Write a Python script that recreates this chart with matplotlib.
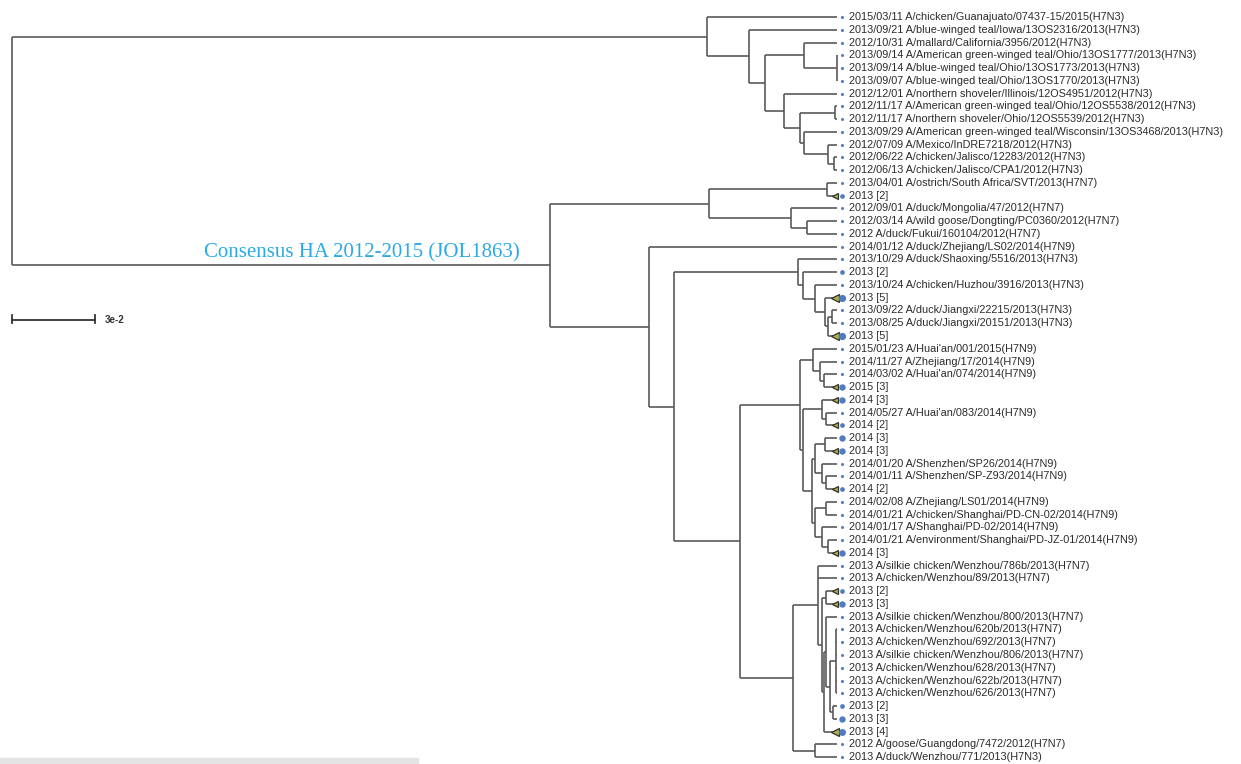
import matplotlib
matplotlib.use("Agg")
import matplotlib.pyplot as plt
from matplotlib.transforms import offset_copy, blended_transform_factory
import matplotlib.patches as mpatches

# ---------------- data ----------------
tip_labels = [
    "2015/03/11 A/chicken/Guanajuato/07437-15/2015(H7N3)",
    "2013/09/21 A/blue-winged teal/Iowa/13OS2316/2013(H7N3)",
    "2012/10/31 A/mallard/California/3956/2012(H7N3)",
    "2013/09/14 A/American green-winged teal/Ohio/13OS1777/2013(H7N3)",
    "2013/09/14 A/blue-winged teal/Ohio/13OS1773/2013(H7N3)",
    "2013/09/07 A/blue-winged teal/Ohio/13OS1770/2013(H7N3)",
    "2012/12/01 A/northern shoveler/Illinois/12OS4951/2012(H7N3)",
    "2012/11/17 A/American green-winged teal/Ohio/12OS5538/2012(H7N3)",
    "2012/11/17 A/northern shoveler/Ohio/12OS5539/2012(H7N3)",
    "2013/09/29 A/American green-winged teal/Wisconsin/13OS3468/2013(H7N3)",
    "2012/07/09 A/Mexico/InDRE7218/2012(H7N3)",
    "2012/06/22 A/chicken/Jalisco/12283/2012(H7N3)",
    "2012/06/13 A/chicken/Jalisco/CPA1/2012(H7N3)",
    "2013/04/01 A/ostrich/South Africa/SVT/2013(H7N7)",
    "2013 [2]",
    "2012/09/01 A/duck/Mongolia/47/2012(H7N7)",
    "2012/03/14 A/wild goose/Dongting/PC0360/2012(H7N7)",
    "2012 A/duck/Fukui/160104/2012(H7N7)",
    "2014/01/12 A/duck/Zhejiang/LS02/2014(H7N9)",
    "2013/10/29 A/duck/Shaoxing/5516/2013(H7N3)",
    "2013 [2]",
    "2013/10/24 A/chicken/Huzhou/3916/2013(H7N3)",
    "2013 [5]",
    "2013/09/22 A/duck/Jiangxi/22215/2013(H7N3)",
    "2013/08/25 A/duck/Jiangxi/20151/2013(H7N3)",
    "2013 [5]",
    "2015/01/23 A/Huai'an/001/2015(H7N9)",
    "2014/11/27 A/Zhejiang/17/2014(H7N9)",
    "2014/03/02 A/Huai'an/074/2014(H7N9)",
    "2015 [3]",
    "2014 [3]",
    "2014/05/27 A/Huai'an/083/2014(H7N9)",
    "2014 [2]",
    "2014 [3]",
    "2014 [3]",
    "2014/01/20 A/Shenzhen/SP26/2014(H7N9)",
    "2014/01/11 A/Shenzhen/SP-Z93/2014(H7N9)",
    "2014 [2]",
    "2014/02/08 A/Zhejiang/LS01/2014(H7N9)",
    "2014/01/21 A/chicken/Shanghai/PD-CN-02/2014(H7N9)",
    "2014/01/17 A/Shanghai/PD-02/2014(H7N9)",
    "2014/01/21 A/environment/Shanghai/PD-JZ-01/2014(H7N9)",
    "2014 [3]",
    "2013 A/silkie chicken/Wenzhou/786b/2013(H7N7)",
    "2013 A/chicken/Wenzhou/89/2013(H7N7)",
    "2013 [2]",
    "2013 [3]",
    "2013 A/silkie chicken/Wenzhou/800/2013(H7N7)",
    "2013 A/chicken/Wenzhou/620b/2013(H7N7)",
    "2013 A/chicken/Wenzhou/692/2013(H7N7)",
    "2013 A/silkie chicken/Wenzhou/806/2013(H7N7)",
    "2013 A/chicken/Wenzhou/628/2013(H7N7)",
    "2013 A/chicken/Wenzhou/622b/2013(H7N7)",
    "2013 A/chicken/Wenzhou/626/2013(H7N7)",
    "2013 [2]",
    "2013 [3]",
    "2013 [4]",
    "2012 A/goose/Guangdong/7472/2012(H7N7)",
    "2013 A/duck/Wenzhou/771/2013(H7N3)",
]

tip_parent = [
    "A", "A2", "A4", "A5", "A5", "A5", "A6", "A8", "A8", "A9", "A10", "A11", "A11",
    "B2", "B2", "B3", "B4", "B4", "C",
    "E", "E1", "E2", "E3", "E5", "E5", "E4",
    "G1", "G1a", "G1b", "G1b", "G3", "G3a", "G3a",
    "G5a", "G5a", "G5b", "G5c", "G5c",
    "G6a", "G6a", "G6b", "G6c", "G6c",
    "H1", "H1", "H1a", "H1a", "H1c",
    "H1e", "H1e", "H1e", "H1e", "H1e", "H1e",
    "H1f", "H1f", "H1b", "H2", "H2",
]

# number of collapsed sequences (0 = single sequence) and whether shown as collapsed wedge
tip_count = [0] * 14 + [2] + [0] * 5 + [2, 0, 5, 0, 0, 5, 0, 0, 0, 3, 3, 0, 2, 3, 3, 0, 0, 2,
             0, 0, 0, 0, 3, 0, 0, 2, 3, 0, 0, 0, 0, 0, 0, 0, 2, 3, 4, 0, 0]
tip_wedge = [i in (14, 22, 25, 29, 30, 32, 34, 37, 42, 45, 46, 56) for i in range(len(tip_labels))]

node_names = ["root", "A", "A2", "A3", "A4", "A5", "A6", "A7", "A8", "A9", "A10", "A11",
              "B", "B1", "B2", "B3", "B4", "C", "D", "E", "E1", "E2", "E3", "E4", "E5",
              "F", "G", "G1", "G1a", "G1b", "G2", "G3", "G3a", "G4", "G5", "G5a", "G5b", "G5c",
              "G6", "G6a", "G6b", "G6c", "H", "H1", "H1y", "H1a", "H1b", "H1c", "H1d", "H1e",
              "H1f", "H2"]
node_parent = [None, "root", "A", "A2", "A3", "A4", "A3", "A6", "A7", "A7", "A9", "A10",
               "root", "B", "B1", "B1", "B3", "B", "C", "D", "E", "E1", "E2", "E3", "E4",
               "D", "F", "G", "G1", "G1a", "G", "G2", "G3", "G2", "G4", "G5", "G5", "G5b",
               "G4", "G6", "G6", "G6b", "F", "H", "H1", "H1y", "H1y", "H1b", "H1c", "H1d",
               "H1d", "H"]
node_depth = [0.0, 0.2512, 0.2664, 0.2722, 0.2863, 0.2982, 0.2790, 0.2848, 0.2975, 0.2863,
              0.2949, 0.2971, 0.1945, 0.2519, 0.2946, 0.2816, 0.2873, 0.2302, 0.2393, 0.2841,
              0.2859, 0.2902, 0.2939, 0.2949, 0.2964, 0.2631, 0.2848, 0.2895, 0.2921, 0.2935,
              0.2859, 0.2928, 0.2942, 0.2892, 0.2902, 0.2939, 0.2928, 0.2942, 0.2902, 0.2942,
              0.2928, 0.2949, 0.2823, 0.2913, 0.2928, 0.2942, 0.2935, 0.2942, 0.2957, 0.2978,
              0.2968, 0.2902]
tip_depth = 0.2982
scale_bar_length = 0.03
scale_bar_label = "3e-2"
root_label = "Consensus HA 2012-2015 (JOL1863)"

# ---------------- build tree ----------------
depth = dict(zip(node_names, node_depth))
children = {n: [] for n in node_names}
for n, p in zip(node_names, node_parent):
    if p is not None:
        children[p].append(("node", n))
for i, p in enumerate(tip_parent):
    children[p].append(("tip", i))

def min_tip(item):
    kind, v = item
    if kind == "tip":
        return v
    return min(min_tip(c) for c in children[v])

for n in children:
    children[n].sort(key=min_tip)

ypos = {}
def get_y(item):
    kind, v = item
    if kind == "tip":
        return float(v)
    ys = [get_y(c) for c in children[v]]
    y = (min(ys) + max(ys)) / 2
    ypos[v] = (y, min(ys), max(ys))
    return y

get_y(("node", "root"))

# ---------------- draw ----------------
W, H = 1241, 764
fig = plt.figure(figsize=(W / 100, H / 100), dpi=100)
ax = fig.add_axes([0, 0, 1, 1])
ax.set_axis_off()
k = 0.03 / 83.0
ax.set_xlim(-12 * k, (W - 12) * k)
y0, dy = 17.0, 12.76
ax.set_ylim((H - y0) / dy, -y0 / dy)

line_kw = dict(color="#5a5a5a", lw=1.2, solid_capstyle="butt", zorder=2)

for n in node_names:
    y, ymin, ymax = ypos[n]
    d = depth[n]
    ax.plot([d, d], [ymin, ymax], **line_kw)
    for kind, v in children[n]:
        if kind == "tip":
            cy, cd = float(v), tip_depth
        else:
            cy, cd = ypos[v][0], depth[v]
        ax.plot([d, cd], [cy, cy], **line_kw)

dot_tr = offset_copy(ax.transData, fig=fig, x=5, y=0, units="dots")
wedge_tr = offset_copy(ax.transData, fig=fig, x=-2, y=0, units="dots")
lab_tr = offset_copy(ax.transData, fig=fig, x=12, y=0, units="dots")
size_for = {0: 2.2, 2: 3.4, 3: 4.6, 4: 5.0, 5: 5.2}
for i, lab in enumerate(tip_labels):
    n = tip_count[i]
    if tip_wedge[i]:
        ax.plot([tip_depth], [i], marker="<", ms=4.2 if n < 4 else 6, mfc="#aeae58",
                mec="#333326", mew=0.9, transform=wedge_tr, zorder=3)
    ax.plot([tip_depth], [i], marker="o", ms=size_for[n], mfc="#4f7cbf", mec="#4f7cbf",
            mew=0, transform=dot_tr, zorder=3)
    ax.text(tip_depth, i, lab, transform=lab_tr, ha="left", va="center",
            fontsize=7.8, family="Liberation Sans", color="#2b2b2b")

# root / consensus label
yB = ypos["B"][0]
ax.annotate(root_label, xy=(depth["B"], yB), xytext=(-22, 2), textcoords="offset points",
            ha="right", va="bottom", fontsize=15, family="Liberation Serif", color="#2aa9e6")

# scale bar
btr = blended_transform_factory(ax.transData, ax.transAxes)
yb = 1 - 320 / H
ax.plot([0, scale_bar_length], [yb, yb], transform=btr, color="#333333", lw=1.3)
for xx in (0, scale_bar_length):
    ax.plot([xx, xx], [yb - 0.004, yb + 0.006], transform=btr, color="#333333", lw=1.3)
ax.annotate(scale_bar_label, xy=(scale_bar_length, yb), xycoords=btr, xytext=(7, 0),
            textcoords="offset points", ha="left", va="center", fontsize=7,
            family="Liberation Sans", fontweight="bold", color="#333333")

# bottom grey strip
fig.patches.append(mpatches.Rectangle((0, 0), 418 / W, 6 / H, transform=fig.transFigure,
                                      color="#e4e4e4", zorder=0))

fig.savefig("out.png", dpi=100)
